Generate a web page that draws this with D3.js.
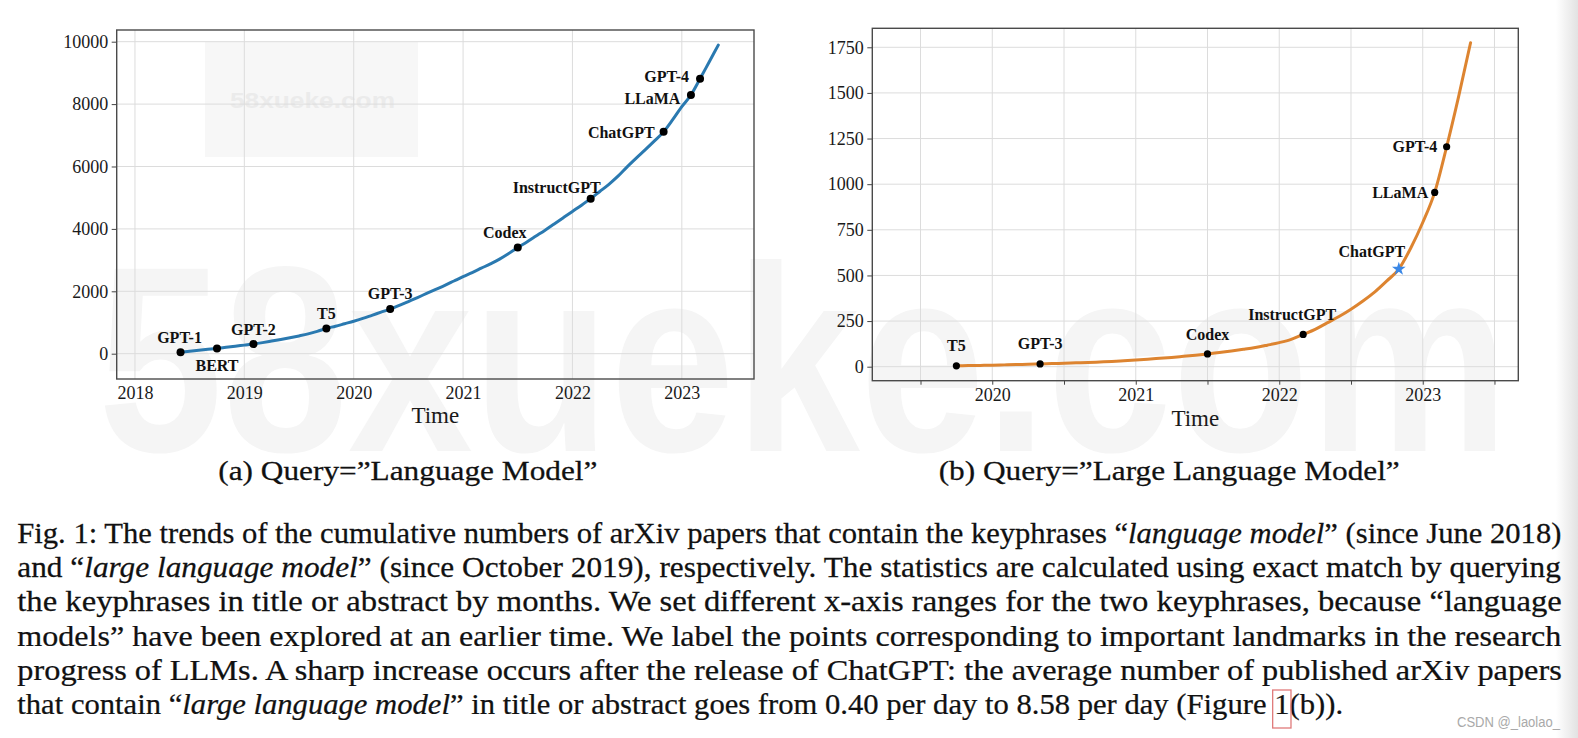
<!DOCTYPE html>
<html><head><meta charset="utf-8">
<script src="https://cdn.jsdelivr.net/npm/d3@7"></script>
<style>html,body{margin:0;padding:0;background:#fff;overflow:hidden}</style>
</head><body>
<svg id="c" width="1578" height="738"></svg>
<script>
// ---------------- DATA ----------------
// (a) cumulative arXiv papers, query "Language Model", monthly from 2018-06
const lmStart = [2018, 6];
const lmValues = [
  50, 80, 110, 140, 170, 205, 240,
  275, 310, 355, 405, 455, 510, 570, 635, 715, 810, 880, 960,
  1040, 1130, 1230, 1330, 1430, 1550, 1670, 1800, 1930, 2060, 2190, 2330,
  2470, 2600, 2740, 2880, 3030, 3210, 3400, 3580, 3770, 3960, 4160, 4360,
  4560, 4760, 4970, 5200, 5430, 5690, 5990, 6270, 6540, 6820, 7110, 7500,
  7920, 8290, 8810, 9350, 9890
];
const lmLandmarks = ["GPT-1", "BERT", "GPT-2", "T5", "GPT-3", "Codex", "InstructGPT", "ChatGPT", "LLaMA", "GPT-4"];
const lmLandmarkMonths = ["2018-06", "2018-10", "2019-02", "2019-10", "2020-05", "2021-07", "2022-03", "2022-11", "2023-02", "2023-03"];
const lmYTicks = [0, 2000, 4000, 6000, 8000, 10000];
const lmXTicks = [2018, 2019, 2020, 2021, 2022, 2023];

// (b) cumulative arXiv papers, query "Large Language Model", monthly from 2019-10
const llmStart = [2019, 10];
const llmValues = [
  5, 6, 7,
  8, 10, 12, 13, 15, 17, 19, 21, 23, 26, 29, 33,
  37, 41, 46, 51, 57, 63, 70, 78, 86, 95, 105, 118,
  132, 150, 177, 205, 240, 275, 315, 360, 410, 470, 535, 650,
  790, 955, 1205, 1480, 1775
];
const llmLandmarks = ["T5", "GPT-3", "Codex", "InstructGPT", "ChatGPT", "LLaMA", "GPT-4"];
const llmLandmarkMonths = ["2019-10", "2020-05", "2021-07", "2022-03", "2022-11", "2023-02", "2023-03"];
const llmStarLandmark = "ChatGPT";
const llmYTicks = [0, 250, 500, 750, 1000, 1250, 1500, 1750];
const llmXTicks = [2020, 2021, 2022, 2023];
const llmXGrid = [2019.5, 2020, 2020.5, 2021, 2021.5, 2022, 2022.5, 2023, 2023.5];

const subCaptionA = ["(a) Query=”Language Model”"];
const subCaptionB = ["(b) Query=”Large Language Model”"];
const captionLines = [
  [["Fig. 1: The trends of the cumulative numbers of arXiv papers that contain the keyphrases “", 0], ["language model", 1], ["” (since June 2018)", 0]],
  [["and “", 0], ["large language model", 1], ["” (since October 2019), respectively. The statistics are calculated using exact match by querying", 0]],
  [["the keyphrases in title or abstract by months. We set different x-axis ranges for the two keyphrases, because “language", 0]],
  [["models” have been explored at an earlier time. We label the points corresponding to important landmarks in the research", 0]],
  [["progress of LLMs. A sharp increase occurs after the release of ChatGPT: the average number of published arXiv papers", 0]],
  [["that contain “", 0], ["large language model", 1], ["” in title or abstract goes from 0.40 per day to 8.58 per day (Figure ", 0], ["1", 0, "box"], ["(b)).", 0]]
];

// ---------------- LAYOUT (not data) ----------------
const lmLabelPos = {
  "GPT-1": [-1, -9.5, "middle"], "BERT": [0, 22.5, "middle"], "GPT-2": [0, -9, "middle"],
  "T5": [0, -9.5, "middle"], "GPT-3": [0, -10, "middle"], "Codex": [-13, -9.5, "middle"],
  "InstructGPT": [10, -6, "end"], "ChatGPT": [-9, 6.5, "end"], "LLaMA": [-10.5, 9, "end"],
  "GPT-4": [-11, 3.5, "end"]
};
const llmLabelPos = {
  "T5": [0, -15, "middle"], "GPT-3": [0, -14.7, "middle"], "Codex": [0, -14, "middle"],
  "InstructGPT": [-11, -14, "middle"], "ChatGPT": [-27, -12, "middle"],
  "LLaMA": [-6.5, 6, "end"], "GPT-4": [-9.3, 5, "end"]
};

const svg = d3.select("#c");
const SERIF = "'Liberation Serif','Times New Roman',serif";

// watermark / screenshot artifacts
const defs = svg.append("defs");
const grad = defs.append("linearGradient").attr("id", "edge").attr("x1", 0).attr("x2", 1);
grad.append("stop").attr("offset", 0).attr("stop-color", "#ffffff");
grad.append("stop").attr("offset", 1).attr("stop-color", "#e2e2e2");
svg.append("rect").attr("x", 1556).attr("y", 0).attr("width", 22).attr("height", 738).attr("fill", "url(#edge)");
svg.append("text").text("58xueke.com")
  .attr("x", 98).attr("y", 451)
  .attr("textLength", 1411).attr("lengthAdjust", "spacingAndGlyphs")
  .style("font-family", "'Liberation Sans',Arial,sans-serif").style("font-weight", "bold")
  .style("font-size", "265px").attr("fill", "#f5f5f5");
svg.append("rect").attr("x", 205).attr("y", 42).attr("width", 213).attr("height", 115).attr("fill", "#f7f7f7");
svg.append("text").text("58xueke.com").attr("x", 230).attr("y", 108)
  .attr("textLength", 165).attr("lengthAdjust", "spacingAndGlyphs")
  .style("font-family", "'Liberation Sans',Arial,sans-serif").style("font-weight", "bold")
  .style("font-size", "22px").attr("fill", "#ebebeb");

function monthToYear(y, m) { return y + (m - 1) / 12; }

function buildSeries(start, values) {
  return values.map((v, i) => {
    const tot = (start[1] - 1) + i;
    const y = start[0] + Math.floor(tot / 12), m = (tot % 12) + 1;
    return { key: `${y}-${String(m).padStart(2, "0")}`, t: monthToYear(y, m), v };
  });
}

function drawChart(cfg) {
  const g = svg.append("g");
  const x = d3.scaleLinear().domain(cfg.xDomain).range([cfg.left, cfg.right]);
  const y = d3.scaleLinear().domain(cfg.yDomain).range([cfg.bottom, cfg.top]);
  const series = buildSeries(cfg.start, cfg.values);

  // grid
  g.append("g").selectAll("line").data(cfg.yTicks).join("line")
    .attr("x1", cfg.left).attr("x2", cfg.right)
    .attr("y1", d => y(d)).attr("y2", d => y(d))
    .attr("stroke", "#dcdcdc").attr("stroke-width", 1);
  g.append("g").selectAll("line").data(cfg.xGrid).join("line")
    .attr("y1", cfg.top).attr("y2", cfg.bottom)
    .attr("x1", d => x(d)).attr("x2", d => x(d))
    .attr("stroke", "#dcdcdc").attr("stroke-width", 1);

  // axes
  const ya = g.append("g").attr("transform", `translate(${cfg.left},0)`)
    .call(d3.axisLeft(y).tickValues(cfg.yTicks).tickSize(5).tickPadding(3.5).tickFormat(d3.format("d")));
  ya.select(".domain").remove();
  ya.selectAll(".tick line").attr("stroke", "#444");
  ya.selectAll("text").style("font-family", SERIF).style("font-size", "18px").attr("fill", "#1a1a1a");

  const xa = g.append("g").attr("transform", `translate(0,${cfg.bottom})`)
    .call(d3.axisBottom(x).tickValues(cfg.xTickMarks).tickSize(cfg.xTickSize).tickPadding(6).tickFormat(d => cfg.xTicks.includes(d) ? String(d) : ""));
  xa.select(".domain").remove();
  xa.selectAll(".tick line").attr("stroke", "#444");
  xa.selectAll("text").style("font-family", SERIF).style("font-size", "18px").attr("fill", "#1a1a1a")
    .attr("y", 20).attr("dy", 0);

  // frame
  g.append("rect").attr("x", cfg.left).attr("y", cfg.top)
    .attr("width", cfg.right - cfg.left).attr("height", cfg.bottom - cfg.top)
    .attr("fill", "none").attr("stroke", "#4a4a4a").attr("stroke-width", 1.4);

  // line
  const line = d3.line().x(d => x(d.t)).y(d => y(d.v)).curve(d3.curveMonotoneX);
  g.append("path").datum(series).attr("d", line)
    .attr("fill", "none").attr("stroke", cfg.color).attr("stroke-width", 3)
    .attr("stroke-linecap", "round");

  // landmarks
  const lookup = new Map(series.map(d => [d.key, d]));
  cfg.landmarks.forEach((name, i) => {
    const d = lookup.get(cfg.landmarkMonths[i]);
    const px = x(d.t), py = y(d.v);
    if (name === cfg.star) {
      g.append("path").attr("d", d3.symbol(d3.symbolStar, 58)())
        .attr("transform", `translate(${px},${py})`).attr("fill", "#3a87e6");
    } else {
      g.append("circle").attr("cx", px).attr("cy", py).attr("r", cfg.dotR).attr("fill", "#000");
    }
    const p = cfg.labelPos[name];
    g.append("text").text(name).attr("x", px + p[0]).attr("y", py + p[1])
      .attr("text-anchor", p[2])
      .style("font-family", SERIF).style("font-weight", "bold").style("font-size", "16px")
      .attr("fill", "#111");
  });

  // axis title
  g.append("text").text("Time").attr("x", (cfg.left + cfg.right) / 2).attr("y", cfg.titleY)
    .attr("text-anchor", "middle").style("font-family", SERIF).style("font-size", "23px").attr("fill", "#1a1a1a");
}

drawChart({
  left: 116.7, right: 754, top: 30, bottom: 379,
  xDomain: [2017.833, 2023.66], yDomain: [-811, 10375],
  start: lmStart, values: lmValues, landmarks: lmLandmarks, landmarkMonths: lmLandmarkMonths,
  yTicks: lmYTicks, xTicks: lmXTicks, xGrid: lmXTicks, xTickMarks: lmXTicks, xTickSize: 0,
  color: "#2a79b0", dotR: 4, labelPos: lmLabelPos, titleY: 423, star: null
});
drawChart({
  left: 872.3, right: 1518.3, top: 28.3, bottom: 380.7,
  xDomain: [2019.164, 2023.666], yDomain: [-76.7, 1854],
  start: llmStart, values: llmValues, landmarks: llmLandmarks, landmarkMonths: llmLandmarkMonths,
  yTicks: llmYTicks, xTicks: llmXTicks, xGrid: llmXGrid, xTickMarks: llmXGrid, xTickSize: 4,
  color: "#dd8430", dotR: 3.6, labelPos: llmLabelPos, titleY: 426, star: llmStarLandmark
});

// ---------------- captions ----------------
function fitLine(segments, x0, x1, baseline, size, color) {
  const t = svg.append("text").attr("x", 0).attr("y", 0)
    .style("font-family", SERIF).style("font-size", size + "px").attr("fill", color)
    .attr("stroke", color).attr("stroke-width", 0.25)
    .style("white-space", "pre");
  let boxIdx = -1, idx = 0;
  segments.forEach(s => {
    t.append("tspan").text(s[0]).style("font-style", s[1] ? "italic" : "normal");
    if (s[2] === "box") boxIdx = idx;
    idx += s[0].length;
  });
  const bb = t.node().getBBox();
  const sx = (x1 - x0) / bb.width;
  t.attr("transform", `translate(${x0 - bb.x * sx},${baseline}) scale(${sx},1)`);
  if (boxIdx >= 0) {
    const ext = t.node().getExtentOfChar(boxIdx);
    const bx = x0 + (ext.x - bb.x) * sx;
    svg.append("rect").attr("x", bx - 1.5).attr("y", baseline - 24)
      .attr("width", ext.width * sx + 3).attr("height", 38)
      .attr("fill", "none").attr("stroke", "#e07a7a").attr("stroke-width", 1.3);
  }
}
fitLine([[subCaptionA[0], 0]], 218.3, 597.7, 480, 27, "#111");
fitLine([[subCaptionB[0], 0]], 938.7, 1400, 480, 27, "#111");
const baselines = [543, 577.2, 611.4, 645.6, 679.8, 714];
captionLines.forEach((segs, i) => {
  fitLine(segs, 17.3, i === 5 ? 1343.7 : 1562, baselines[i], 29.5, "#111");
});

svg.append("text").text("CSDN @_laolao_").attr("x", 1457).attr("y", 727)
  .attr("textLength", 103).attr("lengthAdjust", "spacingAndGlyphs")
  .style("font-family", "'Liberation Sans',Arial,sans-serif").style("font-size", "14px").attr("fill", "#a9a9a9");
</script>
</body></html>
